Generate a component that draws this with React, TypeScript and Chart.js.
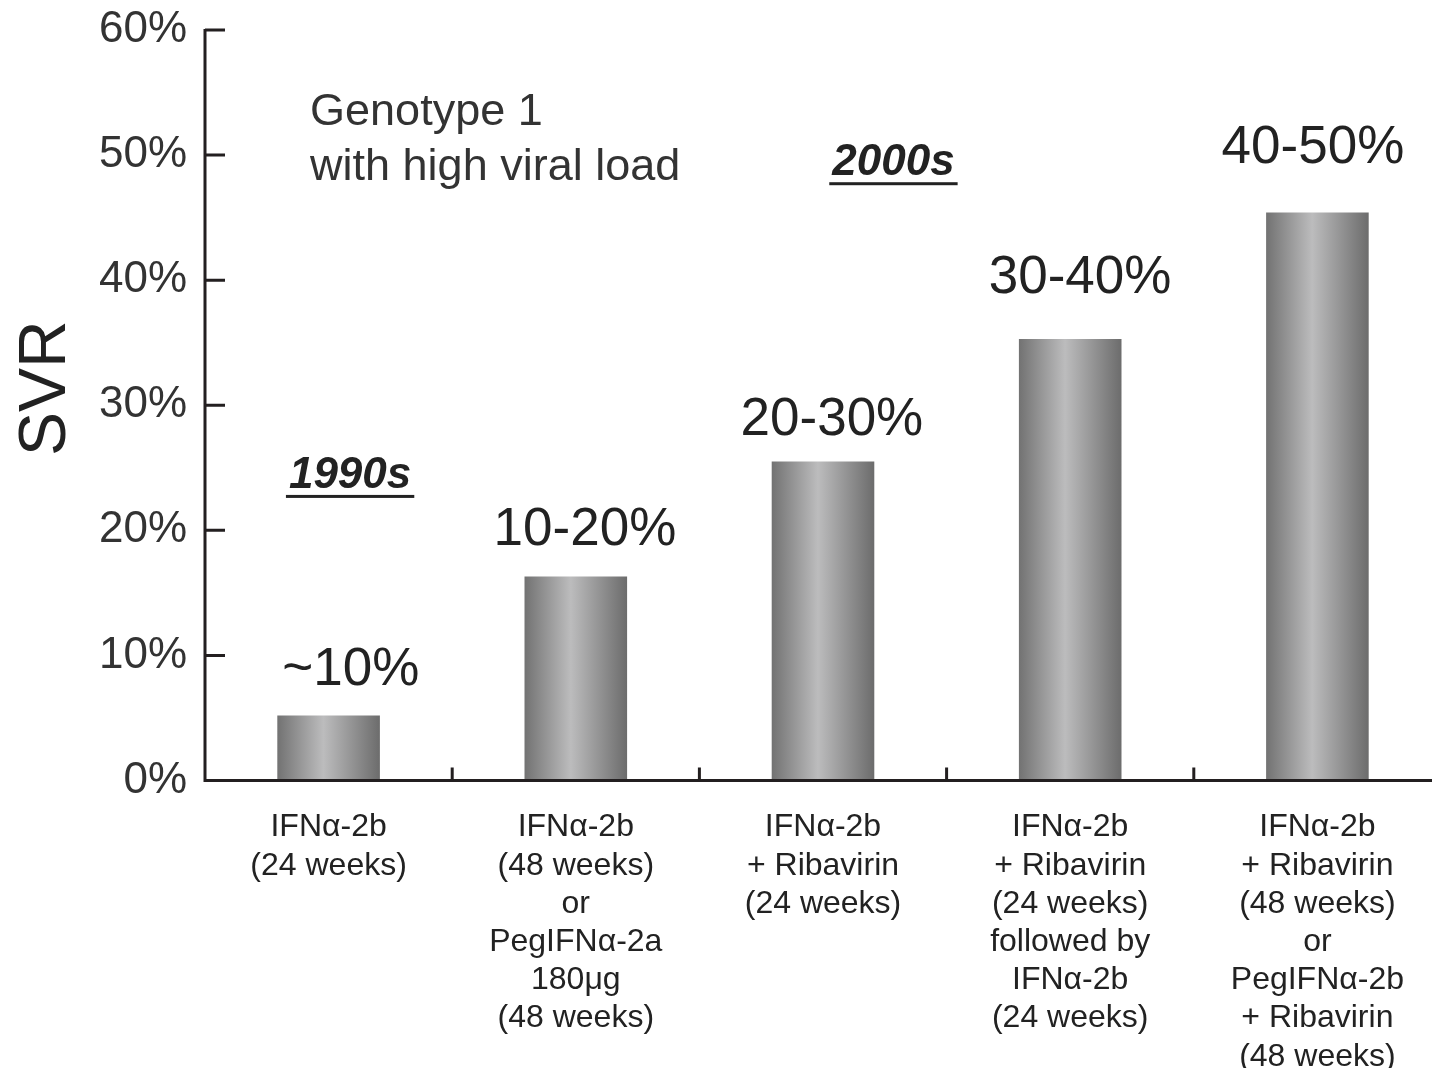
import React, { useEffect, useRef } from 'react';
import { Chart, registerables } from 'chart.js';

Chart.register(...registerables);

// ---- data ----
const categories: string[][] = [
  ['IFNα-2b', '(24 weeks)'],
  ['IFNα-2b', '(48 weeks)', 'or', 'PegIFNα-2a', '180μg', '(48 weeks)'],
  ['IFNα-2b', '+ Ribavirin', '(24 weeks)'],
  ['IFNα-2b', '+ Ribavirin', '(24 weeks)', 'followed by', 'IFNα-2b', '(24 weeks)'],
  ['IFNα-2b', '+ Ribavirin', '(48 weeks)', 'or', 'PegIFNα-2b', '+ Ribavirin', '(48 weeks)'],
];
const svrValues: number[] = [5.2, 16.3, 25.5, 35.3, 45.4];
const rangeLabels: string[] = ['~10%', '10-20%', '20-30%', '30-40%', '40-50%'];
// where each range label sits (bottom of text, in SVR % units)
const rangeLabelLevels: number[] = [7.6, 18.8, 27.6, 39.0, 49.4];
// horizontal nudge of each range label, in category units
const rangeLabelShift: number[] = [0.09, 0.037, 0.036, 0.04, -0.018];
const yTickValues: number[] = [0, 10, 20, 30, 40, 50, 60];
const eraLabels: string[] = ['1990s', '2000s'];
// era label anchors: [category position, SVR %]
const eraAnchors: number[][] = [[0.087, 24.35], [2.285, 49.35]];
const noteLines: string[] = ['Genotype 1', 'with high viral load'];
const noteAnchor: number[] = [-0.075, 53.4, 49.0];
const axisTitle = 'SVR';

const FONT = '"Liberation Sans", Arial, Helvetica, sans-serif';
const AXIS_COLOR = '#231f20';
const BAR_PCT = 0.415;

const overlayPlugin = {
  id: 'overlay',
  afterDatasetsDraw(chart: any) {
    const { ctx, chartArea: ca, scales } = chart;
    const x = scales.x;
    const y = scales.y;
    ctx.save();
    // axes lines
    ctx.strokeStyle = AXIS_COLOR;
    ctx.lineWidth = 3;
    ctx.lineCap = 'butt';
    ctx.beginPath();
    ctx.moveTo(ca.left, ca.top - 1);
    ctx.lineTo(ca.left, ca.bottom + 1.5);
    ctx.moveTo(ca.left - 1.5, ca.bottom);
    ctx.lineTo(ca.right + 10, ca.bottom);
    ctx.stroke();
    // y ticks (inward)
    ctx.beginPath();
    yTickValues.forEach((v) => {
      const py = y.getPixelForValue(v);
      if (v === 0) return;
      ctx.moveTo(ca.left, py);
      ctx.lineTo(ca.left + 20, py);
    });
    // x ticks at category boundaries (inward)
    const n = categories.length;
    for (let i = 0; i < n; i++) {
      const px = (x.getPixelForValue(i) + x.getPixelForValue(i + 1)) / 2;
      ctx.moveTo(px, ca.bottom);
      ctx.lineTo(px, ca.bottom - 13);
    }
    ctx.stroke();

    // range labels above bars
    ctx.fillStyle = '#222';
    ctx.font = `53px ${FONT}`;
    ctx.textAlign = 'center';
    ctx.textBaseline = 'alphabetic';
    rangeLabels.forEach((t, i) => {
      ctx.fillText(t, x.getPixelForValue(i + rangeLabelShift[i]), y.getPixelForValue(rangeLabelLevels[i]));
    });

    // era labels, bold italic underlined
    ctx.font = `italic bold 44px ${FONT}`;
    ctx.textBaseline = 'middle';
    eraLabels.forEach((t, i) => {
      const cx = x.getPixelForValue(eraAnchors[i][0]);
      const cy = y.getPixelForValue(eraAnchors[i][1]);
      ctx.fillText(t, cx, cy);
      const w = ctx.measureText(t).width;
      ctx.fillRect(cx - w / 2 - 3, cy + 19, w + 6, 3);
    });

    // note
    ctx.fillStyle = '#333';
    ctx.font = `45px ${FONT}`;
    ctx.textAlign = 'left';
    const nx = x.getPixelForValue(noteAnchor[0]);
    noteLines.forEach((t, i) => {
      ctx.fillText(t, nx, y.getPixelForValue(noteAnchor[1 + i]));
    });

    // axis title
    ctx.fillStyle = '#222';
    ctx.font = `66px ${FONT}`;
    ctx.textAlign = 'center';
    ctx.textBaseline = 'middle';
    ctx.translate(ca.left - 158, (ca.top + ca.bottom) / 2 - 17);
    ctx.rotate(-Math.PI / 2);
    ctx.fillText(axisTitle, 0, 0);
    ctx.restore();
  },
};

function barGradient(c: any) {
  const chart = c.chart;
  const xs = chart.scales?.x;
  if (!chart.chartArea || !xs) return '#999';
  const cx = xs.getPixelForValue(c.dataIndex);
  const half = (xs.width / categories.length) * BAR_PCT / 2;
  const g = chart.ctx.createLinearGradient(cx - half, 0, cx + half, 0);
  g.addColorStop(0, '#727272');
  g.addColorStop(0.45, '#bcbcbd');
  g.addColorStop(1, '#6c6c6c');
  return g;
}

export default function App() {
  const ref = useRef<HTMLCanvasElement | null>(null);
  useEffect(() => {
    document.body.style.margin = '0';
    document.body.style.overflow = 'hidden';
    const canvas = ref.current;
    if (!canvas) return;
    const chart = new Chart(canvas, {
      type: 'bar',
      data: {
        labels: categories,
        datasets: [
          {
            label: 'SVR',
            data: svrValues,
            backgroundColor: barGradient,
            borderWidth: 0,
            barPercentage: BAR_PCT,
            categoryPercentage: 1,
          },
        ],
      },
      options: {
        responsive: true,
        maintainAspectRatio: false,
        animation: false,
        layout: { padding: { top: 30, right: 4, left: 0, bottom: 0 } },
        plugins: {
          legend: { display: false },
          tooltip: { enabled: false },
          title: { display: false },
        },
        scales: {
          x: {
            grid: { display: false, drawTicks: false },
            border: { display: false },
            ticks: {
              autoSkip: false,
              maxRotation: 0,
              minRotation: 0,
              padding: 28,
              color: '#222',
              font: { family: FONT, size: 32, lineHeight: '38.2px' as any },
            },
            afterFit: (s: any) => {
              s.height = 287.5;
              s.paddingLeft = 0;
              s.paddingRight = 0;
            },
          },
          y: {
            min: 0,
            max: 60,
            grid: { display: false, drawTicks: false },
            border: { display: false },
            ticks: {
              stepSize: 10,
              padding: 18,
              color: '#333',
              font: { family: FONT, size: 44 },
              callback: (v: any) => `${v}%`,
            },
            afterFit: (s: any) => {
              s.width = 205;
              s.paddingTop = 0;
              s.paddingBottom = 0;
            },
          },
        },
      },
      plugins: [overlayPlugin],
    });
    return () => chart.destroy();
  }, []);
  return (
    <div style={{ position: 'relative', width: '1445px', height: '1068px' }}>
      <canvas ref={ref} />
    </div>
  );
}
